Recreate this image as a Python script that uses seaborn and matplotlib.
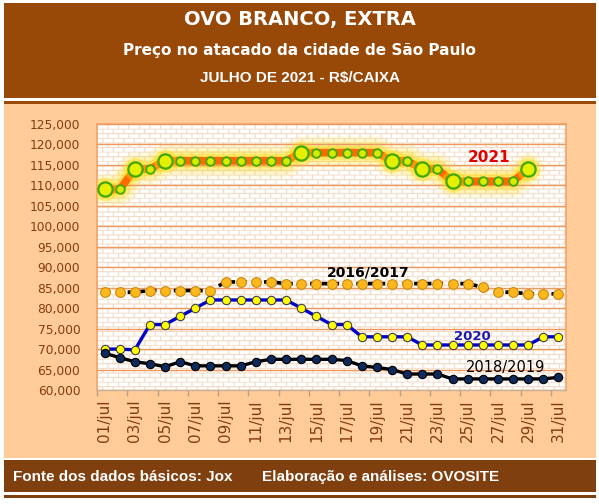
import numpy as np
import pandas as pd
import matplotlib
matplotlib.use("Agg")
import matplotlib.pyplot as plt
import seaborn as sns
from matplotlib.patches import Rectangle
from matplotlib.ticker import FuncFormatter, MultipleLocator

# Data (R$/caixa, julho)
days = [f"{d:02d}/jul" for d in range(1, 32)]
preco_2021 = [109000, 109000, 114000, 114000, 116000, 116000, 116000, 116000,
              116000, 116000, 116000, 116000, 116000, 118000, 118000, 118000,
              118000, 118000, 118000, 116000, 116000, 114000, 114000, 111000,
              111000, 111000, 111000, 111000, 114000, np.nan, np.nan]
preco_2016_2017 = [83900, 83900, 83900, 84300, 84300, 84300, 84300, 84300,
                   86400, 86400, 86400, 86400, 86000, 86000, 86000, 86000,
                   86000, 86000, 86000, 86000, 86000, 86000, 86000, 86000,
                   86000, 85100, 83900, 83900, 83500, 83500, 83500]
preco_2020 = [70000, 70000, 69800, 76000, 76000, 78000, 80000, 82000,
              82000, 82000, 82000, 82000, 82000, 80000, 78000, 76000,
              76000, 73000, 73000, 73000, 73000, 71000, 71000, 71000,
              71000, 71000, 71000, 71000, 71000, 73000, 73000]
preco_2018_2019 = [69000, 67900, 66900, 66400, 65700, 66900, 65900, 65900,
                   65900, 65900, 66900, 67500, 67500, 67500, 67500, 67500,
                   67200, 65900, 65500, 65000, 63900, 63900, 63900, 62700,
                   62700, 62700, 62700, 62700, 62700, 62700, 63100]

df = pd.DataFrame({
    "dia": np.arange(len(days)),
    "2021": preco_2021,
    "2016/2017": preco_2016_2017,
    "2020": preco_2020,
    "2018/2019": preco_2018_2019,
})
# 2021: big markers where price changes
d21 = df[["dia", "2021"]].dropna()
muda = d21["2021"].diff().fillna(1) != 0
d21_big = d21[muda]
d21_small = d21[~muda]

W, H = 599, 504
fig = plt.figure(figsize=(W / 100, H / 100), dpi=100)
fig.patch.set_facecolor("white")


def rect_px(x0, y0, x1, y1, color):
    # pixel box measured from the top-left corner
    fig.patches.append(Rectangle((x0 / W, 1 - y1 / H), (x1 - x0) / W, (y1 - y0) / H,
                                 transform=fig.transFigure, facecolor=color,
                                 edgecolor="none", zorder=-5))


rect_px(4, 3, 596, 98, "#984807")
rect_px(4, 101, 596, 104, "#984807")
rect_px(4, 104, 596, 458, "#FFCC99")
rect_px(4, 460, 596, 492, "#7F3F0F")
rect_px(4, 495, 596, 498, "#7F3F0F")

narrow = ["Liberation Sans Narrow", "Liberation Sans", "DejaVu Sans"]
fig.text(0.5, 1 - 20 / H, "OVO BRANCO, EXTRA", color="white", fontsize=14,
         fontweight="bold", ha="center", va="center", family="DejaVu Sans")
fig.text(0.5, 1 - 50 / H, "Preço no atacado da cidade de São Paulo", color="white",
         fontsize=11, fontweight="bold", ha="center", va="center", family="DejaVu Sans")
fig.text(0.5, 1 - 78 / H, "JULHO DE 2021 - R$/CAIXA", color="white", fontsize=11,
         fontweight="bold", ha="center", va="center", family=narrow)
fig.text(13 / W, 1 - 477 / H, "Fonte dos dados básicos: Jox", color="white",
         fontsize=11, fontweight="bold", ha="left", va="center", family=narrow)
fig.text(262 / W, 1 - 477 / H, "Elaboração e análises: OVOSITE", color="white",
         fontsize=11, fontweight="bold", ha="left", va="center", family=narrow)

ax = fig.add_axes([97 / W, 1 - 390 / H, (566 - 97) / W, (390 - 124) / H])
ax.set_facecolor("white")

# brick wall background
s = 4
hh, ww = (390 - 124) * s, (566 - 97) * s
yy, xx = np.mgrid[0:hh, 0:ww]
row_h, brick_w, mortar = 4.6 * s, 10.5 * s, 0.9 * s
row = (yy // row_h).astype(int)
xmod = (xx + (row % 2) * brick_w / 2) % brick_w
mask = ((yy % row_h) < mortar) | (xmod < mortar)
tex = np.ones((hh, ww, 3))
tex[mask] = np.array([240, 214, 190]) / 255
ax.imshow(tex, extent=(-0.5, 30.5, 60000, 125000), aspect="auto",
          interpolation="antialiased", zorder=0)

ax.set_xlim(-0.5, 30.5)
ax.set_ylim(60000, 125000)
ax.yaxis.set_major_locator(MultipleLocator(5000))
ax.grid(axis="y", color="#EE9A5E", linewidth=1.0, zorder=1)
ax.grid(axis="x", visible=False)
ax.set_axisbelow(False)

# 2021 glow + line
for lw, al in [(24, 0.10), (19, 0.14), (14, 0.22), (10, 0.35)]:
    sns.lineplot(data=d21, x="dia", y="2021", ax=ax, color="#FFD800", linewidth=lw,
                 alpha=al, errorbar=None, solid_capstyle="round", zorder=2)
sns.lineplot(data=d21, x="dia", y="2021", ax=ax, color="#FF6A00", linewidth=5.5,
             errorbar=None, solid_capstyle="round", zorder=3)
sns.scatterplot(data=d21_big, x="dia", y="2021", ax=ax, s=280, color="#FFE000",
                alpha=0.35, linewidth=0, zorder=3)
sns.scatterplot(data=d21_big, x="dia", y="2021", ax=ax, s=105, color="#E4F000",
                edgecolor="#3FA800", linewidth=1.6, zorder=4)
sns.scatterplot(data=d21_small, x="dia", y="2021", ax=ax, s=38, color="#D8EC00",
                edgecolor="#3FA800", linewidth=1.3, zorder=4)

# 2016/2017
sns.lineplot(data=df, x="dia", y="2016/2017", ax=ax, color="black", linewidth=2.6,
             linestyle=(0, (1.6, 1.6)), errorbar=None, marker="o", markersize=7,
             markerfacecolor="#FFB81C", markeredgecolor="#C88A10", markeredgewidth=0.8,
             zorder=5)
# 2020
sns.lineplot(data=df, x="dia", y="2020", ax=ax, color="#0000CC", linewidth=2.4,
             errorbar=None, marker="o", markersize=6, markerfacecolor="#FFFF00",
             markeredgecolor="#404040", markeredgewidth=0.8, zorder=5)
# 2018/2019
sns.lineplot(data=df, x="dia", y="2018/2019", ax=ax, color="black", linewidth=2.4,
             errorbar=None, marker="o", markersize=6, markerfacecolor="#0D2A5C",
             markeredgecolor="black", markeredgewidth=0.8, zorder=5)

# series labels
ax.text(25.4, 116900, "2021", color="#E00000", fontsize=11, fontweight="bold",
        ha="center", va="center", zorder=6)
ax.text(17.4, 88600, "2016/2017", color="black", fontsize=10, fontweight="bold",
        ha="center", va="center", zorder=6)
ax.text(24.3, 73100, "2020", color="#1A1AB0", fontsize=9.5, fontweight="bold",
        ha="center", va="center", zorder=6)
ax.text(26.5, 65500, "2018/2019", color="black", fontsize=10.5,
        ha="center", va="center", zorder=6)

ax.set_xlabel("")
ax.set_ylabel("")
ax.set_xticks(np.arange(0, 31, 2))
ax.set_xticklabels(days[::2], rotation=90)
ax.set_xticks(np.arange(-0.5, 31, 2), minor=True)
ax.tick_params(axis="x", which="major", length=0, pad=7, labelsize=11,
               labelcolor="#843C0C")
ax.tick_params(axis="x", which="minor", length=4, color="#B8A088", width=1)
ax.yaxis.set_major_formatter(FuncFormatter(lambda v, p: f"{v:,.0f}"))
ax.tick_params(axis="y", length=0, pad=12, labelsize=8.8, labelcolor="#843C0C")
for side in ["top", "right", "left"]:
    ax.spines[side].set_color("#F4A46A")
    ax.spines[side].set_linewidth(1.2)
ax.spines["bottom"].set_color("#C8AE96")
ax.spines["bottom"].set_linewidth(1.0)

fig.savefig("out.png", dpi=100, facecolor=fig.get_facecolor())
